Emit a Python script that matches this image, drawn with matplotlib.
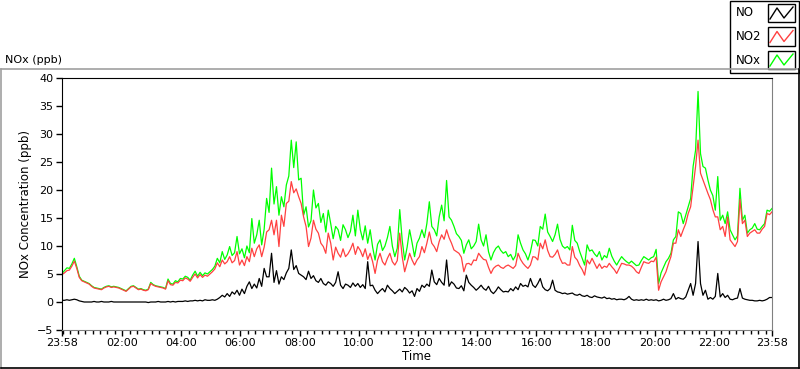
import numpy as np
import matplotlib
matplotlib.use('Agg')
import matplotlib.pyplot as plt
from matplotlib.patches import Rectangle
from matplotlib.lines import Line2D

# 5-minute readings starting 23:58, one row per hour
nox = [
    5.1, 5.6, 6.1, 6.0, 6.8, 7.8, 6.3, 4.6, 3.9, 3.7, 3.5, 3.3,
    2.9, 2.6, 2.5, 2.4, 2.3, 2.6, 2.8, 2.9, 2.7, 2.8, 2.7, 2.6,
    2.4, 2.2, 2.0, 2.4, 2.8, 2.9, 2.6, 2.3, 2.4, 2.2, 2.1, 2.3,
    3.5, 3.1, 2.9, 2.8, 2.7, 2.6, 2.4, 4.1, 3.3, 3.2, 3.8, 3.6,
    4.2, 4.1, 4.6, 4.4, 3.9, 4.8, 5.5, 4.6, 5.3, 4.7, 5.2, 5.0,
    5.4, 5.8, 6.4, 7.8, 7.0, 9.0, 7.6, 8.4, 9.9, 8.3, 8.8, 11.7,
    8.6, 9.5, 7.9, 10.0, 8.8, 14.9, 10.5, 12.0, 14.6, 10.2, 13.0, 18.5,
    16.0, 23.9, 17.5, 20.6, 15.5, 18.8, 17.0, 20.9, 22.5, 28.9, 24.0, 28.6,
    21.8, 22.1, 15.5, 17.0, 13.4, 14.5, 20.0, 16.8, 17.6, 14.2, 15.8, 12.5,
    16.4, 14.0, 11.3, 13.5, 12.9, 11.0, 13.8, 12.9, 11.5, 12.6, 15.5, 11.8,
    16.4, 12.9, 11.1, 13.6, 10.5, 12.9, 9.8, 7.5, 10.3, 11.1, 9.2, 10.0,
    11.5, 13.5, 10.0, 8.1, 9.6, 16.5, 11.0, 7.5, 9.8, 12.9, 10.6, 8.1,
    10.5, 11.4, 12.9, 11.5, 14.0, 17.9, 13.5, 12.9, 11.8, 15.2, 17.3, 14.5,
    21.7, 15.2, 14.6, 13.5, 12.2, 11.7, 11.0, 8.7, 10.2, 11.1, 9.5, 10.0,
    10.8, 13.9, 11.1, 10.0, 12.0, 9.0, 7.5, 8.8, 9.6, 10.0, 9.2, 8.7,
    9.0, 8.1, 8.5, 7.5, 8.3, 12.0, 10.5, 9.3, 8.6, 7.5, 8.9, 11.1,
    11.0, 10.0, 13.5, 13.0, 15.7, 12.5, 11.7, 10.8, 12.0, 13.9, 11.2, 10.0,
    9.6, 9.9, 9.3, 13.7, 11.0, 10.5, 9.0, 7.8, 6.6, 10.2, 9.1, 9.3,
    8.6, 8.1, 9.0, 7.5, 8.3, 7.9, 9.6, 8.2, 7.3, 6.6, 7.4, 8.1,
    7.6, 7.2, 6.9, 7.3, 6.9, 6.5, 6.6, 7.4, 8.1, 7.8, 7.5, 7.9,
    8.1, 9.4, 3.3, 5.2, 6.2, 7.2, 7.8, 8.7, 11.1, 11.7, 16.1, 15.8,
    14.0, 15.5, 17.0, 18.5, 24.2, 27.1, 37.6, 26.5, 24.2, 23.9, 21.8, 20.0,
    19.0, 16.4, 22.4, 14.6, 15.5, 14.0, 16.1, 12.9, 12.0, 11.1, 11.8, 20.3,
    14.6, 15.5, 12.3, 12.9, 13.2, 14.0, 13.0, 12.9, 13.5, 14.0, 16.4, 16.2,
    16.7,
]

no2 = [
    4.9, 5.2, 5.6, 5.7, 6.4, 7.3, 6.0, 4.4, 3.8, 3.6, 3.4, 3.2,
    2.8, 2.5, 2.4, 2.3, 2.2, 2.5, 2.7, 2.8, 2.6, 2.7, 2.6, 2.5,
    2.3, 2.1, 1.9, 2.3, 2.7, 2.8, 2.5, 2.2, 2.3, 2.1, 2.0, 2.2,
    3.3, 3.0, 2.8, 2.7, 2.6, 2.5, 2.3, 3.8, 3.1, 3.0, 3.5, 3.4,
    3.9, 3.8, 4.3, 4.1, 3.7, 4.4, 5.0, 4.3, 4.9, 4.4, 4.8, 4.6,
    5.0, 5.4, 5.9, 7.0, 6.3, 7.5, 6.8, 7.2, 8.1, 7.0, 7.4, 9.0,
    6.6, 7.5, 6.5, 8.1, 7.2, 9.6, 8.1, 9.5, 10.2, 8.1, 9.8, 12.5,
    12.9, 14.6, 12.0, 14.6, 9.9, 15.5, 13.5, 17.6, 18.0, 21.5, 19.5, 20.2,
    18.8, 17.6, 15.2, 13.5, 9.9, 11.4, 14.6, 13.0, 12.3, 10.5, 9.9, 8.7,
    12.3, 10.5, 7.5, 9.8, 8.7, 8.0, 9.5, 8.1, 8.6, 9.4, 10.5, 8.5,
    9.9, 9.2, 8.1, 9.5, 7.6, 8.7, 7.2, 5.1, 7.5, 8.7, 7.2, 6.6,
    7.8, 8.7, 7.2, 6.6, 7.4, 12.3, 8.1, 5.4, 7.0, 8.7, 7.5, 6.6,
    7.5, 8.1, 9.9, 8.8, 10.5, 12.5, 10.5, 9.9, 9.0, 10.8, 12.0, 11.2,
    12.9, 11.5, 10.5, 9.3, 9.0, 8.7, 8.0, 5.4, 6.8, 6.9, 6.6, 7.5,
    7.4, 8.7, 8.1, 7.6, 7.5, 6.2, 5.1, 6.0, 6.4, 6.6, 6.2, 6.0,
    6.4, 6.6, 6.3, 6.0, 6.5, 8.7, 7.6, 6.9, 6.4, 6.0, 6.6, 8.1,
    8.0, 7.5, 10.5, 9.5, 11.1, 9.2, 8.1, 8.0, 8.5, 9.3, 7.8, 6.9,
    7.0, 6.6, 6.6, 9.9, 8.0, 7.5, 6.5, 5.8, 4.8, 7.5, 6.8, 7.8,
    6.9, 6.0, 6.8, 6.0, 6.4, 6.2, 6.9, 6.3, 5.8, 5.1, 6.0, 6.9,
    6.8, 6.6, 6.6, 6.4, 6.0, 5.4, 5.1, 6.2, 7.2, 7.0, 6.9, 7.3,
    7.2, 8.0, 2.1, 3.6, 4.5, 5.4, 6.8, 8.1, 10.5, 10.5, 12.9, 11.7,
    12.9, 14.0, 15.8, 17.0, 20.6, 24.2, 28.9, 23.0, 21.8, 20.6, 19.4, 18.3,
    16.5, 15.2, 15.2, 12.9, 13.5, 11.7, 15.2, 11.1, 10.5, 9.9, 10.8, 18.3,
    14.0, 14.6, 11.7, 12.3, 12.6, 12.9, 12.3, 12.3, 13.0, 13.5, 15.8, 15.6,
    16.1,
]

no = [
    0.3, 0.3, 0.4, 0.3, 0.4, 0.5, 0.4, 0.2, 0.1, 0.0, 0.0, 0.0,
    0.0, 0.1, 0.0, 0.0, 0.1, 0.0, 0.0, 0.0, 0.1, 0.0, 0.0, 0.0,
    0.0, 0.0, 0.0, 0.0, 0.0, 0.0, 0.0, 0.0, 0.0, 0.0, 0.0, -0.1,
    0.0, 0.0, 0.0, 0.1, 0.0, 0.0, 0.0, 0.1, 0.0, 0.1, 0.0, 0.1,
    0.1, 0.1, 0.2, 0.1, 0.2, 0.2, 0.3, 0.2, 0.3, 0.2, 0.4, 0.3,
    0.3, 0.4, 0.3, 0.5, 0.8, 1.2, 0.9, 1.5, 1.0, 1.8, 1.4, 2.1,
    1.2, 2.3, 1.5, 2.8, 3.6, 2.4, 3.2, 2.5, 4.2, 2.8, 6.0, 4.5,
    4.5, 8.7, 3.5, 5.6, 3.2, 4.5, 4.0, 5.2, 6.0, 9.3, 5.8, 6.5,
    5.1, 4.8, 4.5, 4.0, 5.5, 4.2, 4.7, 3.8, 3.5, 4.2, 3.3, 3.0,
    3.6, 3.3, 2.8, 3.5, 5.4, 3.0, 2.4, 3.2, 3.0, 2.6, 3.4, 2.8,
    3.3, 2.6, 3.1, 2.4, 7.2, 2.9, 3.0, 2.1, 1.5, 2.0, 2.4, 1.8,
    3.0, 2.4, 2.0, 1.5, 1.9, 2.3, 1.8, 2.6, 2.2, 1.6, 2.0, 1.0,
    2.4, 1.9, 3.0, 2.6, 3.2, 2.8, 5.7, 3.6, 3.1, 4.2, 3.5, 3.0,
    7.5, 2.8, 3.6, 3.2, 2.5, 2.4, 2.9, 2.0, 4.8, 3.5, 3.0, 2.6,
    2.1, 2.5, 3.0, 2.4, 2.1, 2.8, 1.9, 1.5, 2.0, 2.7, 2.2, 1.8,
    1.9, 1.8, 2.4, 2.0, 2.7, 2.2, 3.3, 2.8, 3.0, 2.7, 4.2, 3.0,
    2.6, 3.3, 4.2, 2.7, 2.2, 2.0, 2.4, 3.9, 2.1, 1.8, 1.7, 1.5,
    1.6, 1.4, 1.5, 1.6, 1.3, 1.2, 1.4, 1.1, 1.0, 1.2, 0.9, 0.8,
    1.1, 0.9, 0.8, 0.7, 0.9, 0.6, 0.7, 0.5, 0.6, 0.4, 0.5, 0.5,
    0.4, 0.6, 1.0, 0.5, 0.3, 0.4, 0.3, 0.4, 0.3, 0.5, 0.3, 0.4,
    0.3, 0.4, 0.2, 0.3, 0.5, 0.3, 0.4, 0.6, 1.5, 0.5, 0.8, 0.6,
    0.5, 0.9, 2.1, 3.3, 1.2, 3.3, 10.8, 3.3, 1.2, 2.1, 0.5, 0.8,
    0.5, 1.0, 5.1, 0.9, 1.5, 0.8, 1.2, 0.5, 0.4, 0.6, 0.7, 2.4,
    0.7, 0.5, 0.4, 0.3, 0.3, 0.2, 0.2, 0.3, 0.2, 0.3, 0.5, 0.8,
    0.8,
]

tick_labels = ['23:58', '02:00', '04:00', '06:00', '08:00', '10:00', '12:00',
               '14:00', '16:00', '18:00', '20:00', '22:00', '23:58']

hours = np.arange(len(nox)) / 12.0   # hours since 23:58
off = 2 / 60.0                      # 23:58 -> 00:00

fig = plt.figure(figsize=(8, 3.69), dpi=100)
ax = fig.add_axes([62 / 800, 39 / 369, 710 / 800, 252 / 369])

ax.plot(hours, nox, color='#00ff00', lw=0.9)
ax.plot(hours, no2, color='#ff4040', lw=0.9)
ax.plot(hours, no, color='black', lw=0.9)

ax.set_xlim(0, 24)
ax.set_ylim(-5, 40)
ax.set_yticks(np.arange(-5, 41, 5))
major = [0] + [off + 2 * k for k in range(1, 12)] + [24]
ax.set_xticks(major)
ax.set_xticklabels(tick_labels)
ax.set_xticks([off + 0.25 * k for k in range(96)], minor=True)
ax.tick_params(axis='both', labelsize=8, length=4, width=1, pad=2)
ax.tick_params(axis='x', which='minor', length=3, width=1)
ax.tick_params(axis='y', which='minor', length=0)
ax.set_xlabel('Time', fontsize=8.5, labelpad=1)
ax.set_ylabel('NOx Concentration (ppb)', fontsize=8.5, labelpad=4)
for s in ['left', 'top']:
    ax.spines[s].set_color('black')
for s in ['right', 'bottom']:
    ax.spines[s].set_color('#808080')

# outer panel frame
fig.add_artist(Line2D([1 / 800, 799 / 800], [300 / 369, 300 / 369], color='#a0a0a0', lw=1.2))
fig.add_artist(Line2D([1 / 800, 1 / 800], [1 / 369, 300 / 369], color='#a0a0a0', lw=1.2))
fig.add_artist(Line2D([1 / 800, 799 / 800], [1 / 369, 1 / 369], color='black', lw=1.2))
fig.add_artist(Line2D([799 / 800, 799 / 800], [1 / 369, 300 / 369], color='black', lw=1.2))
fig.text(5 / 800, 1 - 60 / 369, 'NOx (ppb)', fontsize=8, va='center', ha='left')

# legend panel
fig.add_artist(Rectangle((730 / 800, 296 / 369), 69 / 800, 72 / 369, transform=fig.transFigure,
                         facecolor='white', edgecolor='black', lw=1))
names = ['NO', 'NO2', 'NOx']
cols = ['black', '#ff4040', '#00ff00']
for i, (nm, c) in enumerate(zip(names, cols)):
    yc = 13 + 23.5 * i
    fig.text(736 / 800, 1 - yc / 369, nm, fontsize=8.5, va='center', ha='left')
    fig.add_artist(Rectangle((768 / 800, 1 - (yc + 9) / 369), 27 / 800, 18 / 369,
                             transform=fig.transFigure, facecolor='white',
                             edgecolor='black', lw=1))
    zx = np.array([770, 777, 784, 793]) / 800
    zy = 1 - (yc + np.array([6, -5, 5, -6])) / 369
    fig.add_artist(Line2D(zx, zy, color=c, lw=1))

fig.savefig('out.png', dpi=100)
